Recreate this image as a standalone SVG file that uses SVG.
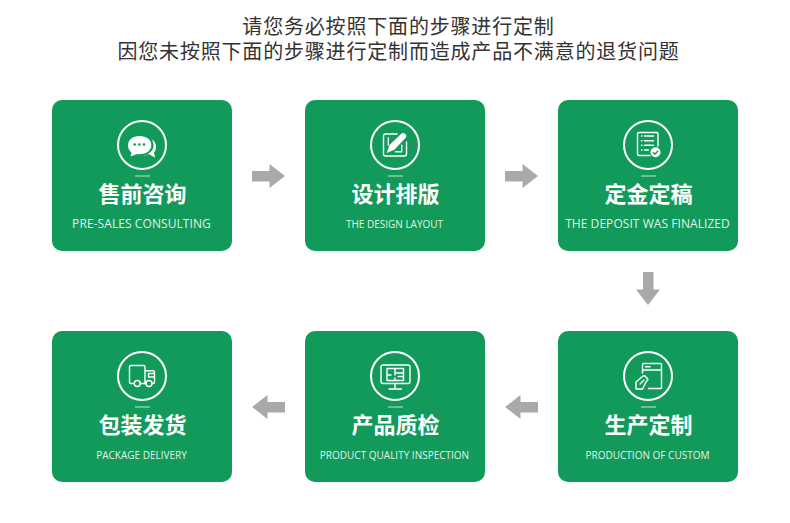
<svg xmlns="http://www.w3.org/2000/svg" width="790" height="523" viewBox="0 0 790 523">
<style>
.title{font-family:"Liberation Sans","Noto Sans CJK SC",sans-serif;font-size:20px;letter-spacing:.82px;fill:#333;text-anchor:middle}
.card{fill:#129a5b}
.ring{fill:none;stroke:#fff;stroke-width:2}
.dash{stroke:#fff;stroke-opacity:.75;stroke-width:1}
.zh{font-family:"Noto Sans CJK SC",sans-serif;font-size:22px;font-weight:700;fill:#fff;text-anchor:middle}
.en{font-family:"Open Sans","Noto Sans",sans-serif;fill:#fff;fill-opacity:.9;text-anchor:middle}
.ic{fill:none;stroke:#fff;stroke-width:1.4;stroke-linejoin:round;stroke-linecap:round}
.fw{fill:#fff}
.arr{fill:#a9a9a9}
</style>
<rect width="790" height="523" fill="#fff"/>
<g id="heading">
<text class="title" x="398.500" y="34">请您务必按照下面的步骤进行定制</text>
<text class="title" x="398.500" y="59">因您未按照下面的步骤进行定制而造成产品不满意的退货问题</text>
</g>
<g id="connectors">
<polygon class="arr" points="252,171 269.500,171 269.500,164 285,176 269.500,188 269.500,181.500 252,181.500"/>
<polygon class="arr" points="505,171 522.500,171 522.500,164 538,176 522.500,188 522.500,181.500 505,181.500"/>
<polygon class="arr" points="643,272 653.500,272 653.500,289.500 660,289.500 648,305 636,289.500 643,289.500"/>
<polygon class="arr" points="538,402 520.500,402 520.500,395 505,407 520.500,419 520.500,412.500 538,412.500"/>
<polygon class="arr" points="285,402 267.500,402 267.500,395 252,407 267.500,419 267.500,412.500 285,412.500"/>
</g>
<g id="node-consult">
<rect class="card" x="52" y="100" width="180" height="151" rx="10"/>
<circle class="ring" cx="142" cy="145" r="24"/>
<path class="fw" d="M139.500 136c-7 0-11.500 4-11.500 9.500 0 3 1.500 5.500 3.500 7l-1 4 6.500-2.500c.8.200 1.700.3 2.500.3 7 0 11.800-4 11.800-9.300s-4.800-9-11.800-9z"/>
<path class="fw" d="M151.500 139c3.500 2.500 5 6 4.500 9-.4 2-1 3.500-2 4.500l1 5-6.500-3.500c-2 .8-3.500 1.500-5.500 1.500 5-1 10-4 10.500-9 .3-3-.7-5.500-2-7.500z"/>
<circle class="card" cx="134.700" cy="144.500" r="1.300"/><circle class="card" cx="139.300" cy="144.500" r="1.300"/><circle class="card" cx="144" cy="144.500" r="1.300"/>
<line class="dash" x1="135" y1="176" x2="150" y2="176"/>
<text class="zh" x="142.500" y="202">售前咨询</text>
<text class="en" x="141.500" y="228" font-size="12" letter-spacing=".08">PRE-SALES CONSULTING</text>
</g>
<g id="node-design">
<rect class="card" x="305" y="100" width="180" height="151" rx="10"/>
<circle class="ring" cx="395" cy="145" r="24"/>
<path class="ic" d="M397 134h-11.500a2 2 0 0 0-2 2v18a2 2 0 0 0 2 2h19a2 2 0 0 0 2-2v-12"/>
<path class="fw" d="M386.700 153l2.800-8 12-11.500q2-1.200 4 .5q1.700 2 .3 3.800l-11.500 12z"/>
<path class="ic" d="M388.300 138v7M395.500 151.700h6.200v-6.500"/>
<line class="dash" x1="388" y1="176" x2="403" y2="176"/>
<text class="zh" x="395.500" y="202">设计排版</text>
<text class="en" x="394.500" y="228" font-size="10">THE DESIGN LAYOUT</text>
</g>
<g id="node-deposit">
<rect class="card" x="558" y="100" width="180" height="151" rx="10"/>
<circle class="ring" cx="648" cy="145" r="24"/>
<path class="ic" d="M650 155.500h-11a1.500 1.500 0 0 1-1.500-1.500v-20a1.500 1.500 0 0 1 1.500-1.500h17.500a1.500 1.500 0 0 1 1.500 1.500v12"/>
<path class="ic" d="M644.500 136h9M644.500 140.700h9M644.500 145.300h9M644.500 150h4"/>
<path class="ic" d="M641.500 136h.5M641.500 140.700h.5M641.500 145.300h.5M641.500 150h.5"/>
<circle class="fw" cx="655.500" cy="152.300" r="5"/>
<path d="M653 152.300l2 2 3-3.500" fill="none" stroke="#129a5b" stroke-width="1.400"/>
<line class="dash" x1="641" y1="176" x2="656" y2="176"/>
<text class="zh" x="648.500" y="202">定金定稿</text>
<text class="en" x="647.500" y="228" font-size="12" letter-spacing=".06">THE DEPOSIT WAS FINALIZED</text>
</g>
<g id="node-production">
<rect class="card" x="558" y="331" width="180" height="151" rx="10"/>
<circle class="ring" cx="648" cy="376" r="24"/>
<path class="ic" d="M642.500 373v-8.500a1 1 0 0 1 1-1h17a1 1 0 0 1 1 1v23a1 1 0 0 1-1 1h-12"/>
<path class="ic" d="M642.500 370h19M645.500 366.700h4.500"/>
<path class="ic" d="M636 389v-7l7-6q1.500-.8 2.500.5l2.500 3-2 2.500-3.500 7zM640 384l4-4"/>
<line class="dash" x1="641" y1="407" x2="656" y2="407"/>
<text class="zh" x="648.500" y="433">生产定制</text>
<text class="en" x="647.500" y="459" font-size="10">PRODUCTION OF CUSTOM</text>
</g>
<g id="node-inspection">
<rect class="card" x="305" y="331" width="180" height="151" rx="10"/>
<circle class="ring" cx="395" cy="376" r="24"/>
<rect class="ic" x="381" y="365" width="29" height="18.500" rx="2"/>
<path class="ic" d="M387 368.500h16.500v12h-16.500zM395 368.500v6.500M395 378v2.500M395 373h8.500M398 376.500h5.500M387 375h4"/>
<path class="ic" d="M395 383.500v5M389 389h12.500"/>
<line class="dash" x1="388" y1="407" x2="403" y2="407"/>
<text class="zh" x="395.500" y="433">产品质检</text>
<text class="en" x="394.500" y="459" font-size="10">PRODUCT QUALITY INSPECTION</text>
</g>
<g id="node-delivery">
<rect class="card" x="52" y="331" width="180" height="151" rx="10"/>
<circle class="ring" cx="142" cy="376" r="24"/>
<path class="ic" d="M134 383.500h-3a1.500 1.500 0 0 1-1.500-1.500v-15a1.500 1.500 0 0 1 1.500-1.500h12.500a1.500 1.500 0 0 1 1.500 1.500v16.500h-5"/>
<path class="ic" d="M145 370.700h8a1.500 1.500 0 0 1 1.500 1.500v9.800a1.500 1.500 0 0 1-1.500 1.500h-1M145 383.500h1M148.500 373.500h6v3.500h-6z"/>
<circle class="ic" cx="137.300" cy="383.500" r="3"/><circle class="ic" cx="149" cy="383.500" r="3"/>
<line class="dash" x1="135" y1="407" x2="150" y2="407"/>
<text class="zh" x="142.500" y="433">包装发货</text>
<text class="en" x="141.500" y="459" font-size="10">PACKAGE DELIVERY</text>
</g>
</svg>
